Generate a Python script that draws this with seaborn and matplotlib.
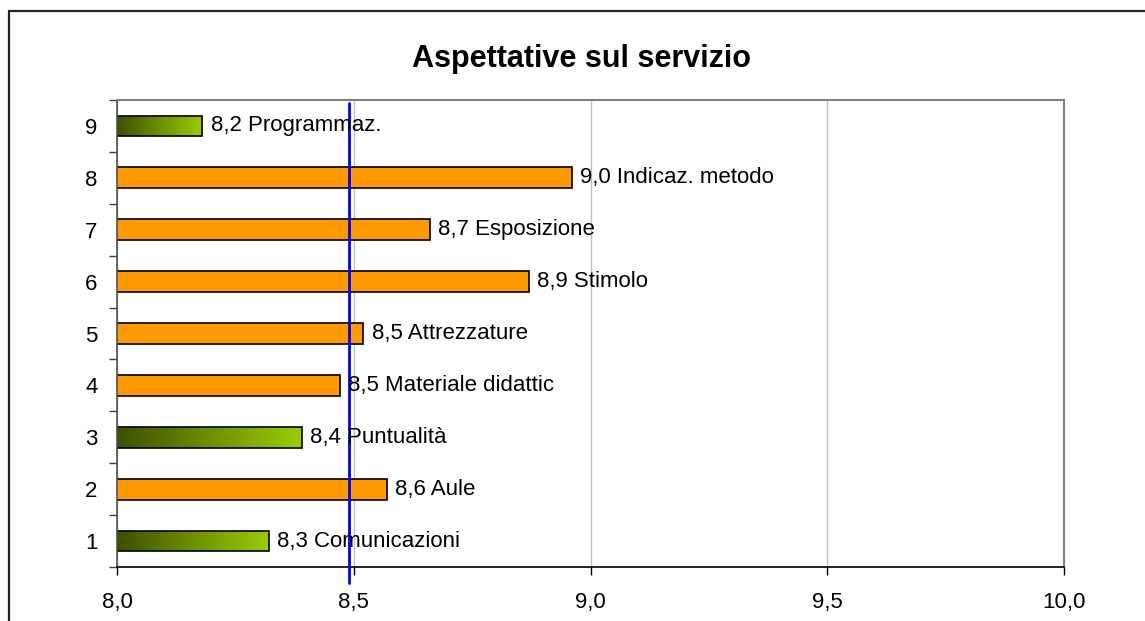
import numpy as np
import pandas as pd
import matplotlib
matplotlib.use("Agg")
import matplotlib.pyplot as plt
from matplotlib.patches import Rectangle
from matplotlib.colors import LinearSegmentedColormap
from matplotlib.ticker import FixedLocator
import seaborn as sns

# data
voci = ["1", "2", "3", "4", "5", "6", "7", "8", "9"]
nomi = ["Comunicazioni", "Aule", "Puntualità", "Materiale didattic", "Attrezzature",
        "Stimolo", "Esposizione", "Indicaz. metodo", "Programmaz."]
valori = [8.32, 8.57, 8.39, 8.47, 8.52, 8.87, 8.66, 8.96, 8.18]
verdi = ["1", "3", "9"]          # bars drawn with the green gradient
media = 8.49                     # blue reference line
xticks = [8.0, 8.5, 9.0, 9.5, 10.0]

df = pd.DataFrame({"voce": voci, "valore": valori, "nome": nomi})

sns.set_theme(style="white", rc={"text.color": "black", "xtick.color": "black",
                                 "ytick.color": "black", "axes.labelcolor": "black"})
plt.rcParams["font.family"] = ["Liberation Sans", "DejaVu Sans"]

fig = plt.figure(figsize=(11.45, 6.21), dpi=100)
ax = fig.add_axes([117 / 1145, 1 - 567 / 621, (1064 - 117) / 1145, (567 - 100) / 621])

order = voci[::-1]
sns.barplot(data=df, x="valore", y="voce", order=order, orient="h", color="#ff9900",
            width=0.4, edgecolor="black", linewidth=1.2, saturation=1, ax=ax, zorder=2)

gradiente = LinearSegmentedColormap.from_list("verde", ["#3c5000", "#6f8f00", "#9acd00"])
ax.set_xlim(8, 10)
for voce, patch in zip(order, ax.patches):
    if voce in verdi:
        patch.set_facecolor("none")
        y0 = patch.get_y()
        y1 = y0 + patch.get_height()
        x1 = patch.get_x() + patch.get_width()
        img = ax.imshow(np.linspace(0, 1, 256).reshape(1, -1), cmap=gradiente, aspect="auto",
                        extent=[8, x1, y1, y0], zorder=1.9)
        img.set_clip_path(patch)

ax.set_xlim(8, 10)
ax.set_ylim(8.5, -0.5)

# value labels
for voce, patch in zip(order, ax.patches):
    riga = df[df["voce"] == voce].iloc[0]
    testo = f"{riga['valore']:.1f}".replace(".", ",") + " " + riga["nome"]
    ax.annotate(testo, (riga["valore"], patch.get_y() + patch.get_height() / 2),
                xytext=(6, 0), textcoords="offset points", va="center", ha="left",
                fontsize=16, color="black", zorder=5)

# blue reference line
ax.axvline(media, ymin=-0.034, ymax=0.994, color="#0000ff", lw=2, clip_on=False, zorder=4)

# axes styling
ax.set_xticks(xticks)
ax.set_xticklabels([f"{t:.1f}".replace(".", ",") for t in xticks], fontsize=16)
ax.tick_params(axis="x", which="major", length=5.8, width=1, color="black",
               labelcolor="black", pad=12, direction="out", bottom=True)
ax.tick_params(axis="y", which="major", length=0, pad=14, labelsize=16, labelcolor="black")
ax.yaxis.set_minor_locator(FixedLocator(np.arange(-0.5, 9, 1)))
ax.tick_params(axis="y", which="minor", length=5.8, width=1, color="#404040",
               direction="out", left=True)
ax.set_xlabel("")
ax.set_ylabel("")
ax.xaxis.grid(True, color="#c0c0c0", lw=1)
ax.set_axisbelow(True)
for side in ["top", "right"]:
    ax.spines[side].set_color("#808080")
    ax.spines[side].set_linewidth(1.5)
ax.spines["left"].set_color("#505050")
ax.spines["bottom"].set_color("black")
ax.spines["left"].set_linewidth(1.2)
ax.spines["bottom"].set_linewidth(1.2)

fig.text(581 / 1145, 1 - 67 / 621, "Aspettative sul servizio", fontsize=22,
         fontweight="bold", ha="center", va="baseline", color="black")

# outer chart frame (cropped on the right and at the bottom)
fig.patches.append(Rectangle((9 / 1145, -0.05), 1.2, 1 - 11 / 621 + 0.05,
                             transform=fig.transFigure, fill=False, ec="#222222", lw=1.6))

fig.savefig("out.png", dpi=100)
